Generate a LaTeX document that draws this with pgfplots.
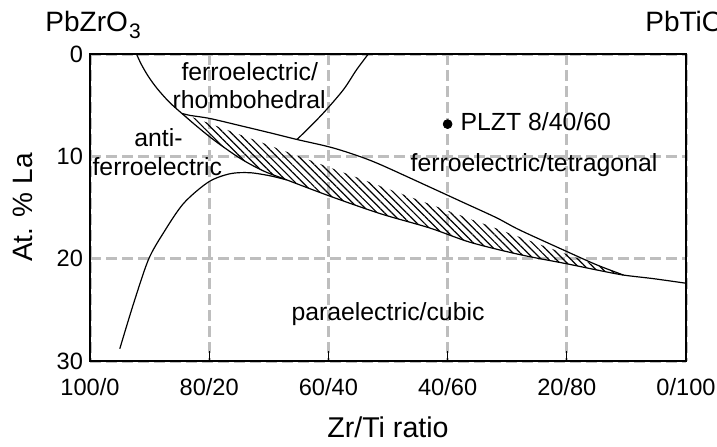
\documentclass[border=0pt]{standalone}
\usepackage{fontspec}
\setmainfont{Liberation Sans}
\usepackage{pgfplots}
\pgfplotsset{compat=1.18}
\usepgfplotslibrary{fillbetween}
\usetikzlibrary{patterns.meta}
\definecolor{gridgray}{RGB}{190,190,190}

\newcommand\lbl{\fontsize{12.4}{14}\selectfont}

\begin{document}
\begin{tikzpicture}
\begin{axis}[
    scale only axis,
    width=298pt, height=153.5pt,
    xmin=0, xmax=100, ymin=0, ymax=30,
    y dir=reverse,
    xtick={0,20,...,100},
    xticklabels={100/0,80/20,60/40,40/60,20/80,0/100},
    ytick={0,10,20,30},
    major tick length=0pt,
    grid=major,
    major grid style={gridgray, line width=1.5pt, dash pattern=on 5.5pt off 2.5pt},
    axis line style={line width=0.7pt},
    tick label style={font=\fontsize{11.8}{12}\selectfont},
    xticklabel style={yshift=-5pt},
    /pgf/number format/assume math mode=true,
    every axis x label/.style={at={(axis description cs:0.5,0)}, anchor=base, yshift=-38pt, font=\fontsize{14.3}{15}\selectfont},
    every axis y label/.style={at={(axis description cs:0,0.5)}, xshift=-28.5pt, rotate=90, anchor=base, font=\fontsize{14}{15}\selectfont},
    xlabel={Zr/Ti ratio},
    ylabel={At. \% La},
]
% left arm of the rhombohedral dome, running on as the lower edge of the band and the tail
\addplot[name path=lo, smooth, line width=0.6pt] coordinates {
    (7.8,0) (8.6,1.0) (9.8,2.2) (11.3,3.4) (13.3,4.7) (15.4,5.8)
    (18,7.1) (21,8.5) (25.2,10.2) (29,11.4) (33,12.3) (40.3,13.9)
    (48.7,15.6) (57,17.0) (63.8,18.4) (72.1,19.6) (80,20.5)
    (85,21.1) (89.5,21.6) (94.5,21.95) (100,22.4)
};
% upper edge of the band
\addplot[name path=up, smooth, line width=0.6pt] coordinates {
    (15.4,5.8) (16.8,6.0) (20.1,6.3) (25.2,7.0) (30.2,7.7) (34.7,8.35)
    (40.3,9.1) (44.7,9.9) (48.7,10.8) (57,13.0) (62.6,14.5) (68.2,16.0)
    (72.1,17.2) (80,19.3) (85,20.6) (89.5,21.6)
};
\addplot[draw=none, pattern={Lines[angle=-45, distance=2.6pt, line width=0.6pt]}]
    fill between[of=up and lo, soft clip={domain=15.4:89.5}];
% right arm of the dome
\addplot[smooth, line width=0.6pt] coordinates {
    (34.7,8.35) (35.8,7.75) (39.1,5.8) (42.5,3.5) (44.7,1.56) (46.7,0)
};
% antiferroelectric / paraelectric boundary
\addplot[smooth, line width=0.6pt] coordinates {
    (5.0,28.8) (7.3,24.4) (9.8,20.1) (12.3,17.5) (15.7,14.6) (19.9,12.5)
    (23.5,11.7) (26.8,11.6) (30.2,11.9) (33,12.3)
};
% PLZT 8/40/60
\addplot[only marks, mark=*, mark size=2.2pt, black] coordinates {(60,6.85)};
\node[anchor=base west, inner sep=0, font=\lbl] at ([shift={(6.3pt,-3.35pt)}]axis cs:60,6.85) {PLZT 8/40/60};

% short inward ticks on the bottom edge, drawn over the dashed grid
\pgfplotsinvokeforeach{20,40,60,80}{
    \draw[black, line width=0.6pt] (axis cs:#1,30) -- ++(0,5pt);
}

\node[anchor=base, inner sep=0, font=\lbl] at (axis cs:26.8,2.54) {ferroelectric/};
\node[anchor=base, inner sep=0, font=\lbl] at (axis cs:26.7,5.28) {rhombohedral};
\node[anchor=base, inner sep=0, font=\lbl] at (axis cs:11.5,9.06) {anti-};
\node[anchor=base, inner sep=0, font=\lbl] at (axis cs:11.3,11.83) {ferroelectric};
\node[anchor=base, inner sep=0, font=\lbl] at (axis cs:74.5,11.5) {ferroelectric/tetragonal};
\node[anchor=base, inner sep=0, font=\lbl] at (axis cs:50.0,26.0) {paraelectric/cubic};

\coordinate (nw) at (axis cs:0,0);
\coordinate (sw) at (axis cs:0,30);
\end{axis}
\node[anchor=base west, inner sep=0, font=\fontsize{14}{15}\selectfont] at ([shift={(-22.5pt,11.2pt)}]nw)
    {PbZrO\kern0.6pt\raisebox{-0.25em}{\fontsize{10.5}{11}\selectfont 3}};
\node[anchor=base west, inner sep=0, font=\fontsize{14}{15}\selectfont] at ([shift={(277.5pt,11.2pt)}]nw)
    {PbTiO\kern0.6pt\raisebox{-0.25em}{\fontsize{10.5}{11}\selectfont 3}};
\pgfresetboundingbox
\path[use as bounding box] ([shift={(-45pt,-42.5pt)}]sw) rectangle ++(358.5pt,223pt);
\end{tikzpicture}
\end{document}
